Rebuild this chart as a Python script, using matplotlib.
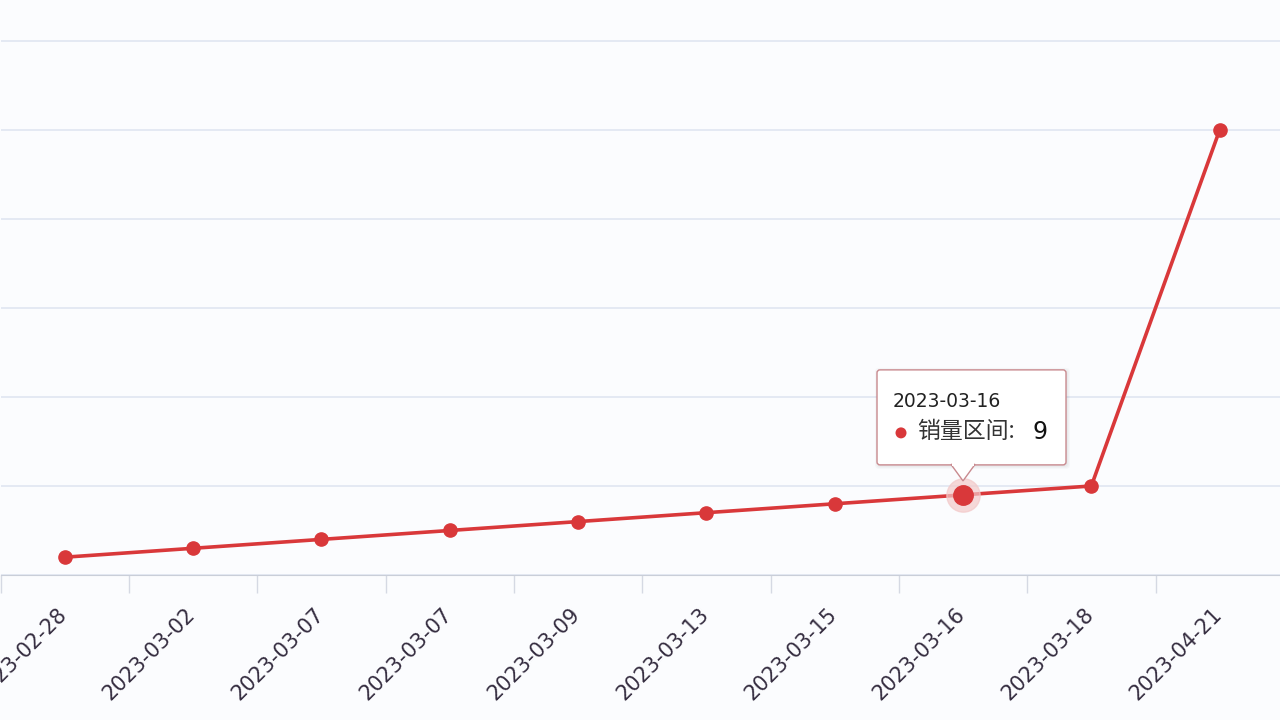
import matplotlib.pyplot as plt
import matplotlib.patches as mpatches
from matplotlib.transforms import IdentityTransform, ScaledTranslation

# 数据
dates = ['2023-02-28', '2023-03-02', '2023-03-07', '2023-03-07', '2023-03-09',
         '2023-03-13', '2023-03-15', '2023-03-16', '2023-03-18', '2023-04-21']
sales = [2, 3, 4, 5, 6, 7, 8, 9, 10, 50]
y_ticks = [0, 10, 20, 30, 40, 50, 60]
series_name = '销量区间'
hl_idx = 7  # 悬停提示的那个点

plt.rcParams['font.family'] = ['Noto Sans CJK SC', 'DejaVu Sans']

bg = '#fbfcfe'
red = '#d9383a'

fig = plt.figure(figsize=(12.8, 7.2), dpi=100, facecolor=bg)
ax = fig.add_axes([0.0004, 0.2014, 1.0026, 0.7986])
ax.set_facecolor(bg)

x = list(range(len(dates)))
ax.plot(x, sales, '-o', color=red, lw=2.6, ms=9.5, zorder=3)

ax.set_xlim(-0.5, len(dates) - 0.5)
ax.set_ylim(0, 64.6)
ax.set_yticks(y_ticks)
ax.grid(axis='y', color='#e0e6f1', lw=1.2)
ax.tick_params(axis='y', left=False, labelleft=False)
for s in ['top', 'right', 'left']:
    ax.spines[s].set_visible(False)
ax.spines['bottom'].set_color('#c9ced8')

ax.set_xticks(x)
ax.set_xticklabels(dates, rotation=45, ha='right', rotation_mode='anchor',
                   fontsize=15, color='#352d40', family='DejaVu Sans')
ax.tick_params(axis='x', which='major', length=0, pad=24)
shift = ScaledTranslation(-0.08, 0.04, fig.dpi_scale_trans)
for lbl in ax.get_xticklabels():
    lbl.set_transform(lbl.get_transform() + shift)
ax.set_xticks([i - 0.5 for i in range(len(dates) + 1)], minor=True)
ax.tick_params(axis='x', which='minor', length=13, color='#d5d9e3', width=1)

# 高亮点
ax.plot(x[hl_idx], sales[hl_idx], 'o', ms=24, color='#f3c9c9', alpha=0.7, zorder=4)
ax.plot(x[hl_idx], sales[hl_idx], 'o', ms=14, color=red, zorder=5)

# 提示框（像素坐标）
px, py = ax.transData.transform((x[hl_idx], sales[hl_idx]))
ident = IdentityTransform()
bx0, bx1 = px - 86, px + 103
by0, by1 = py + 30, py + 125
for k in range(4):
    fig.add_artist(mpatches.FancyBboxPatch(
        (bx0 - k + 1, by0 - k - 1), bx1 - bx0 + 2 * k, by1 - by0 + 2 * k,
        boxstyle='round,pad=0,rounding_size=4', transform=ident,
        fc='#000000', ec='none', alpha=0.025, zorder=6))
box = mpatches.FancyBboxPatch((bx0, by0), bx1 - bx0, by1 - by0,
                              boxstyle='round,pad=0,rounding_size=3',
                              transform=ident, fc='white', ec='#c98a8f', lw=1, zorder=7)
tri = mpatches.Polygon([(px - 12, by0 + 0.5), (px + 12, by0 + 0.5), (px, py + 14)],
                       closed=True, transform=ident, fc='white', ec='#c98a8f', lw=1, zorder=7)
cover = mpatches.Rectangle((px - 11, by0 - 1), 22, 3, transform=ident,
                           fc='white', ec='none', zorder=8)
for p in (box, tri, cover):
    fig.add_artist(p)

fig.text(px - 70, py + 93, dates[hl_idx], transform=ident, fontsize=13.5,
         color='#222222', va='center', ha='left', zorder=9, family='DejaVu Sans')
fig.add_artist(mpatches.Circle((px - 62, py + 62), 5.5, transform=ident,
                               fc=red, ec='none', zorder=9))
fig.text(px - 46, py + 63, series_name + ':', transform=ident, fontsize=16.5,
         color='#333333', va='center', ha='left', zorder=9)
fig.text(px + 69, py + 63, str(sales[hl_idx]), transform=ident, fontsize=17,
         color='#111111', va='center', ha='left', zorder=9, family='DejaVu Sans')

fig.savefig('out.png', dpi=100, facecolor=bg)
